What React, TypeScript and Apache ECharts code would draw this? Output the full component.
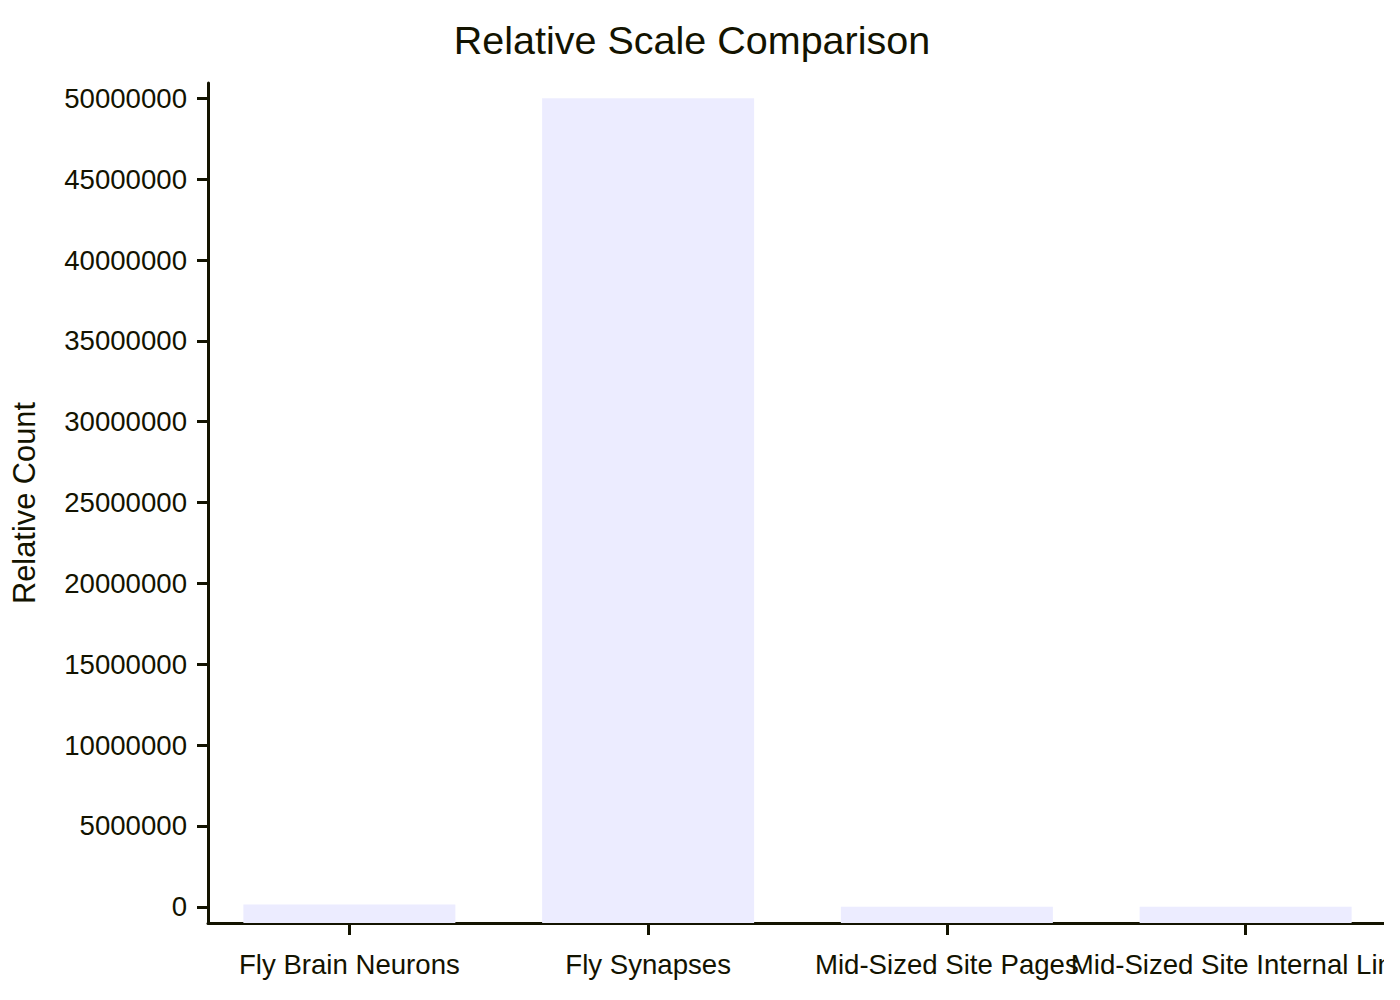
import React, { useEffect, useRef } from "react";
import * as echarts from "echarts";

const categories = [
  "Fly Brain Neurons",
  "Fly Synapses",
  "Mid-Sized Site Pages",
  "Mid-Sized Site Internal Links",
];
const values = [140000, 50000000, 10000, 5000];
const yTickValues = [0, 5000000, 10000000, 15000000, 20000000, 25000000, 30000000, 35000000, 40000000, 45000000, 50000000];
const Y_MIN = -1000000;
const Y_MAX = 50950000;

const TEXT = "#131300";
const BAR = "#ECECFF";
const FONT = "'Liberation Sans', Arial, sans-serif";

export default function App() {
  const ref = useRef<HTMLDivElement>(null);
  useEffect(() => {
    document.body.style.margin = "0";
    const chart = echarts.init(ref.current!, null, { renderer: "svg" });
    const option: any = {
      animation: false,
      backgroundColor: "#ffffff",
      textStyle: { fontFamily: FONT, color: TEXT },
      title: {
        text: "Relative Scale Comparison",
        left: "center",
        top: 15,
        textStyle: { fontSize: 39.5, fontWeight: "normal", color: TEXT, fontFamily: FONT },
      },
      grid: [
        { left: 200, top: 83, width: 1195, height: 840, containLabel: false, outerBoundsMode: "none" },
        { left: 208, top: 83, width: 1200, height: 840, containLabel: false, outerBoundsMode: "none" },
      ],
      xAxis: [
        {
          type: "category",
          gridIndex: 0,
          data: categories,
          axisLine: { show: false },
          axisTick: { show: true, alignWithLabel: true, length: 12, lineStyle: { color: TEXT, width: 3 } },
          axisLabel: { fontSize: 27.6, color: TEXT, fontFamily: FONT, margin: 27, interval: 0, hideOverlap: false },
          splitLine: { show: false },
        },
        {
          type: "value",
          gridIndex: 1,
          min: 0,
          max: 1,
          axisLine: { show: true, onZero: false, lineStyle: { color: TEXT, width: 3 } },
          axisTick: { show: false },
          axisLabel: { show: false },
          splitLine: { show: false },
        },
      ],
      yAxis: [
        {
          type: "value",
          gridIndex: 0,
          min: 0,
          max: Y_MAX - Y_MIN,
          show: false,
          splitLine: { show: false },
        },
        {
          type: "value",
          gridIndex: 1,
          min: Y_MIN,
          max: Y_MAX,
          name: "Relative Count",
          nameLocation: "middle",
          nameRotate: 90,
          nameGap: 168,
          nameTextStyle: { fontSize: 30.8, color: TEXT, fontFamily: FONT },
          axisLine: { show: true, onZero: false, lineStyle: { color: TEXT, width: 3 } },
          axisTick: { show: true, length: 11, lineStyle: { color: TEXT, width: 3 }, customValues: yTickValues },
          axisLabel: {
            fontSize: 27.6,
            color: TEXT,
            fontFamily: FONT,
            margin: 21,
            customValues: yTickValues,
            formatter: (v: number) => String(v),
          },
          splitLine: { show: false },
        },
      ],
      series: [
        {
          type: "bar",
          xAxisIndex: 0,
          yAxisIndex: 0,
          barWidth: 212,
          itemStyle: { color: BAR },
          data: values.map((v) => v - Y_MIN),
        },
      ],
    };
    chart.setOption(option);
    return () => chart.dispose();
  }, []);
  return <div ref={ref} style={{ width: 1384, height: 1000 }} />;
}
